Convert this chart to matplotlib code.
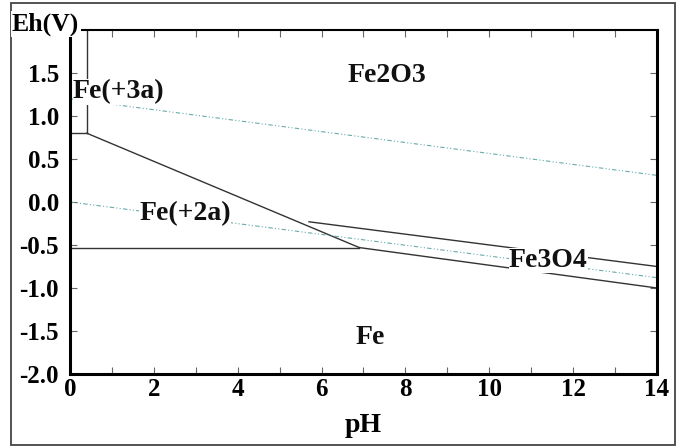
import matplotlib
matplotlib.use("Agg")
import matplotlib.pyplot as plt
from matplotlib.patches import Rectangle
from matplotlib.ticker import MultipleLocator

plt.rcParams['font.family'] = ['Liberation Serif', 'DejaVu Serif']
plt.rcParams['font.weight'] = 'bold'

# boundary lines of the Fe-H2O Eh-pH diagram (pH, Eh)
fe3_fe2_vert_ph = [0.4, 0.4]
fe3_fe2_vert_eh = [2.0, 0.8]
fe3_fe2_horiz_ph = [0.0, 0.4]
fe3_fe2_horiz_eh = [0.8, 0.8]
fe2_fe2o3_ph = [0.4, 6.9]
fe2_fe2o3_eh = [0.8, -0.53]
fe2_fe_ph = [0.0, 6.9]
fe2_fe_eh = [-0.53, -0.53]
fe2o3_fe3o4_ph = [5.7, 14.0]
fe2o3_fe3o4_eh = [-0.23, -0.75]
fe3o4_fe_ph = [6.9, 14.0]
fe3o4_fe_eh = [-0.53, -1.0]

# water stability lines
o2_ph = [0.0, 14.0]
o2_eh = [1.20, 0.31]
h2_ph = [0.0, 14.0]
h2_eh = [0.0, -0.88]

# region labels
regions = ['Fe2O3', 'Fe(+3a)', 'Fe(+2a)', 'Fe3O4', 'Fe']
region_ph = [7.56, 0.07, 2.75, 11.41, 7.15]
region_eh = [1.47, 1.28, -0.13, -0.68, -1.58]
region_ha = ['center', 'left', 'center', 'center', 'center']

fig = plt.figure(figsize=(6.92, 4.46), dpi=100)
fig.patches.append(Rectangle((11 / 692, 1 - 445 / 446), 664 / 692, 442 / 446,
                             transform=fig.transFigure, fill=False,
                             edgecolor='#444444', linewidth=1.3))

ax = fig.add_axes([70 / 692, 1 - 374 / 446, 587 / 692, 344 / 446])

lc = '#333333'
for px, ey in [(fe3_fe2_vert_ph, fe3_fe2_vert_eh), (fe3_fe2_horiz_ph, fe3_fe2_horiz_eh),
               (fe2_fe2o3_ph, fe2_fe2o3_eh), (fe2_fe_ph, fe2_fe_eh),
               (fe2o3_fe3o4_ph, fe2o3_fe3o4_eh), (fe3o4_fe_ph, fe3o4_fe_eh)]:
    ax.plot(px, ey, color=lc, linewidth=1.0, zorder=2)

wc = '#6aabab'
ax.plot(o2_ph, o2_eh, color=wc, linewidth=0.8, linestyle=(0, (4, 2, 1, 2, 1, 2)), zorder=2)
ax.plot(h2_ph, h2_eh, color=wc, linewidth=0.8, linestyle=(0, (4, 2, 1, 2, 1, 2)), zorder=2)

for name, x, y, ha in zip(regions, region_ph, region_eh, region_ha):
    ax.text(x, y, name, ha=ha, va='center', fontsize=20, fontweight='bold',
            color='#111111', zorder=5,
            bbox=dict(facecolor='white', edgecolor='none', pad=0.3))

ax.set_xlim(0, 14)
ax.set_ylim(-2.0, 2.0)
ax.xaxis.set_major_locator(MultipleLocator(2))
ax.xaxis.set_minor_locator(MultipleLocator(1))
ax.set_yticks([-2.0, -1.5, -1.0, -0.5, 0.0, 0.5, 1.0, 1.5])
ax.set_yticklabels(['-2.0', '-1.5', '-1.0', '-0.5', '0.0', '0.5', '1.0', '1.5'])
ax.tick_params(axis='both', which='both', direction='in', top=True, right=True,
               color='#666666', width=0.8, labelsize=18, length=5)
ax.tick_params(axis='x', pad=3)
ax.tick_params(axis='y', pad=8)
for lab in ax.get_xticklabels() + ax.get_yticklabels():
    lab.set_fontweight('bold')

for side in ['left', 'right', 'bottom']:
    ax.spines[side].set_linewidth(2.2)
ax.spines['top'].set_linewidth(1.5)

ax.set_xlabel('pH', fontsize=20, fontweight='bold')
ax.xaxis.set_label_coords((363 - 70) / 587, (374 - 413) / 344)

fig.text(12 / 692, 1 - 24 / 446, 'Eh(V)', ha='left', va='center', fontsize=18.5,
         fontweight='bold', zorder=10,
         bbox=dict(facecolor='white', edgecolor='none', pad=1.0))

fig.savefig('out.png', dpi=100)
